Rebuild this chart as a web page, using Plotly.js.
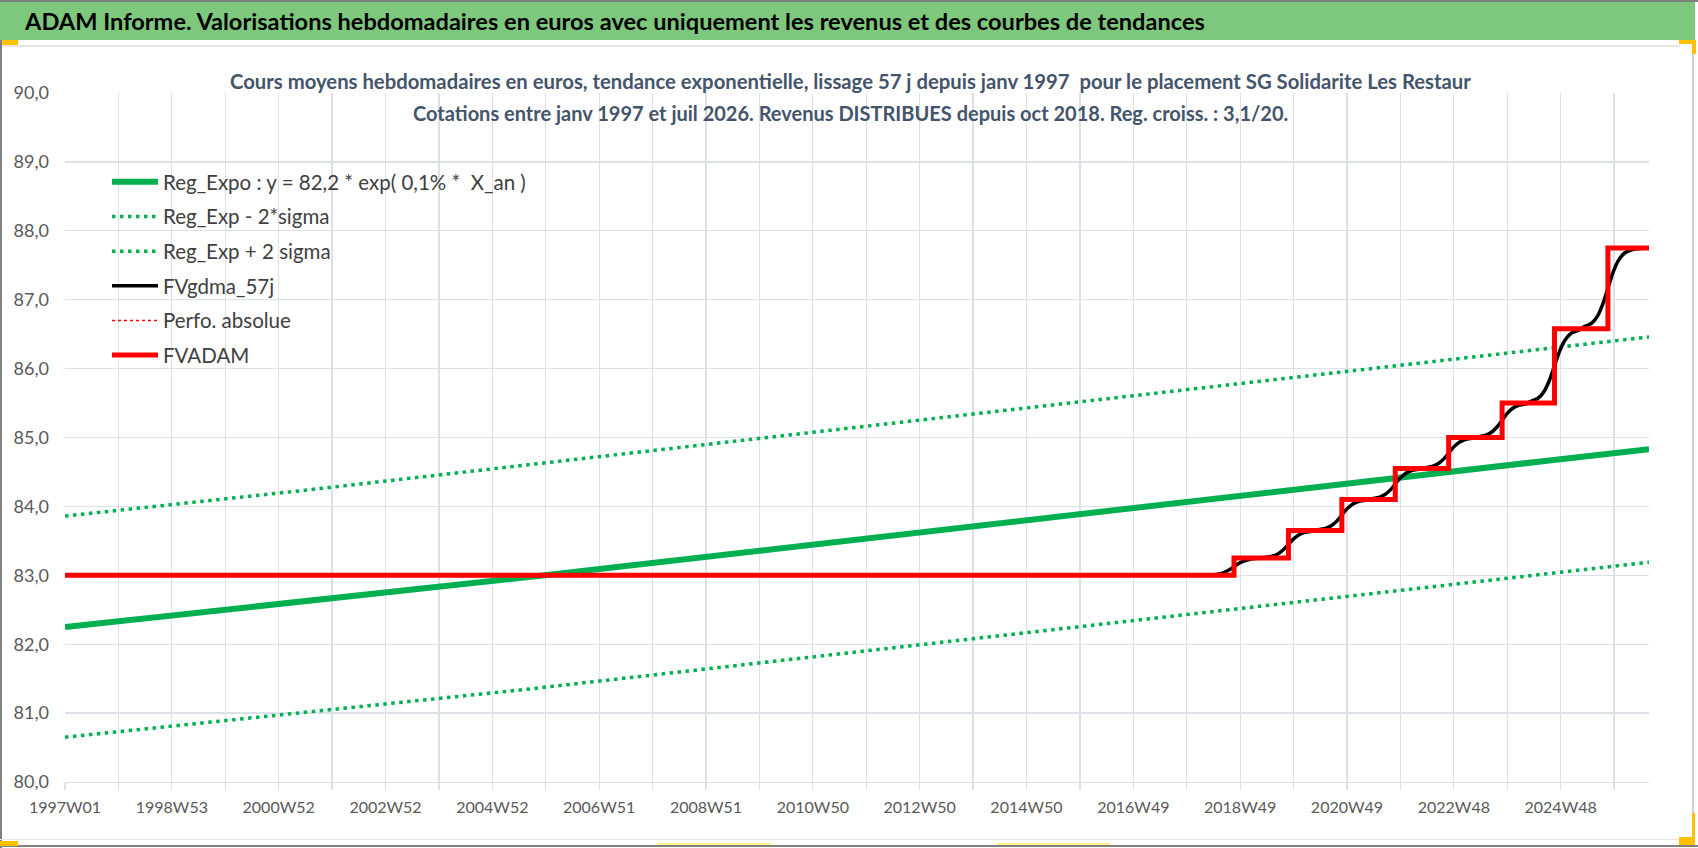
<!DOCTYPE html>
<html>
<head>
<meta charset="utf-8">
<script src="https://cdn.plot.ly/plotly-3.0.1.min.js"></script>
<style>
  html, body { margin: 0; padding: 0; background: #ffffff; }
  #chart { width: 1698px; height: 848px; }
</style>
</head>
<body>
<div id="chart"></div>
<script>
// ---------- DATA ----------
// x = week index since 1997W01
const tickLabels = ['1997W01', '', '1998W53', '', '2000W52', '', '2002W52', '', '2004W52', '', '2006W51', '', '2008W51', '', '2010W50', '', '2012W50', '', '2014W50', '', '2016W49', '', '2018W49', '', '2020W49', '', '2022W48', '', '2024W48', ''];

const trendWeeks = [0, 467, 1447, 1542];
const regExpo = [82.25, 83.00, 84.67, 84.83];

const lowerWeeks = [0, 446, 1542];
const regExpMinus = [80.65, 81.34, 83.19];

const upperWeeks = [0, 231, 1107, 1542];
const regExpPlus = [83.86, 84.23, 85.72, 86.46];

const fvWeeks = [0, 1138, 1191, 1243, 1295, 1347, 1399, 1450, 1502, 1542];
const fvAdam = [83.00, 83.25, 83.65, 84.10, 84.55, 85.00, 85.50, 86.58, 87.75, 87.75];

const gdmaWeeks = [0, 1090,
  1114, 1122, 1128, 1133, 1138, 1143, 1148, 1154, 1162,
  1167, 1175, 1181, 1186, 1191, 1196, 1201, 1207, 1215,
  1219, 1227, 1233, 1238, 1243, 1248, 1253, 1259, 1267,
  1271, 1279, 1285, 1290, 1295, 1300, 1305, 1311, 1319,
  1323, 1331, 1337, 1342, 1347, 1352, 1357, 1363, 1371,
  1375, 1383, 1389, 1394, 1399, 1404, 1409, 1415, 1423,
  1426, 1434, 1440, 1445, 1450, 1455, 1460, 1466, 1474,
  1478, 1486, 1492, 1497, 1502, 1507, 1512, 1518, 1526,
  1542];
const fvGdma57 = [83.00, 83.00,
  83.005, 83.016, 83.040, 83.076, 83.125, 83.174, 83.210, 83.234, 83.246,
  83.257, 83.276, 83.314, 83.371, 83.450, 83.529, 83.586, 83.624, 83.643,
  83.658, 83.679, 83.722, 83.786, 83.875, 83.964, 84.028, 84.071, 84.092,
  84.108, 84.129, 84.172, 84.236, 84.325, 84.414, 84.478, 84.521, 84.542,
  84.558, 84.579, 84.622, 84.686, 84.775, 84.864, 84.928, 84.971, 84.992,
  85.009, 85.033, 85.080, 85.152, 85.250, 85.349, 85.421, 85.468, 85.491,
  85.519, 85.570, 85.672, 85.827, 86.040, 86.253, 86.408, 86.510, 86.561,
  86.601, 86.656, 86.766, 86.935, 87.165, 87.395, 87.564, 87.674, 87.729,
  87.750];

const seriesNames = ['Reg_Expo : y = 82,2 * exp( 0,1% *  X_an )', 'Reg_Exp - 2*sigma', 'Reg_Exp + 2 sigma', 'FVgdma_57j', 'Perfo. absolue', 'FVADAM'];
const mainTitle = 'ADAM Informe. Valorisations hebdomadaires en euros avec uniquement les revenus et des courbes de tendances';
const subTitle1 = 'Cours moyens hebdomadaires en euros, tendance exponentielle, lissage 57 j depuis janv 1997  pour le placement SG Solidarite Les Restaur';
const subTitle2 = 'Cotations entre janv 1997 et juil 2026. Revenus DISTRIBUES depuis oct 2018. Reg. croiss. : 3,1/20.';

// ---------- LAYOUT HELPERS ----------
const W = 1698, H = 848;
const ML = 65, MR = 49, MT = 93, MB = 66;
const PW = W - ML - MR, PH = H - MT - MB;
const X = px => (px - ML) / PW;
const Y = py => (H - MB - py) / PH;
const rect = (x0, y0, x1, y1, color, layer) => ({
  type: 'rect', xref: 'paper', yref: 'paper',
  x0: X(x0), x1: X(x1), y0: Y(y1), y1: Y(y0),
  fillcolor: color, line: {width: 0}, layer: layer || 'above'
});

const GREEN = '#00B050';
const FONT = 'Lato, "Open Sans", sans-serif';
const GRID = '#DCE0E7';

const traces = [
  {x: trendWeeks, y: regExpo, name: seriesNames[0], mode: 'lines', line: {color: GREEN, width: 6}, legendgroup: 'a'},
  {x: lowerWeeks, y: regExpMinus, name: seriesNames[1], mode: 'lines', line: {color: GREEN, width: 3.5, dash: '3.5px,4.5px'}, legendgroup: 'b'},
  {x: upperWeeks, y: regExpPlus, name: seriesNames[2], mode: 'lines', line: {color: GREEN, width: 3.5, dash: '3.5px,4.5px'}, legendgroup: 'c'},
  {x: gdmaWeeks, y: fvGdma57, name: seriesNames[3], mode: 'lines', line: {color: '#000000', width: 3.5, shape: 'spline', smoothing: 0.6}, legendgroup: 'd'},
  {x: fvWeeks, y: fvAdam, name: seriesNames[4], mode: 'lines', line: {color: '#FF0000', width: 1.5, dash: 'dot', shape: 'hv'}, legendgroup: 'e'},
  {x: fvWeeks, y: fvAdam, name: seriesNames[5], mode: 'lines', line: {color: '#FF0000', width: 5, shape: 'hv'}, legendgroup: 'f'}
];

const tickWeeks = tickLabels.map((_, i) => i * 52);

const layout = {
  width: W, height: H,
  margin: {l: ML, r: MR, t: MT, b: MB, pad: 0},
  paper_bgcolor: '#ffffff', plot_bgcolor: '#ffffff',
  font: {family: FONT, color: '#595959'},
  title: {
    text: '<b>' + mainTitle + '</b>',
    font: {family: FONT, size: 23.6, color: '#000000'},
    xref: 'container', yref: 'container',
    x: 25 / W, xanchor: 'left', y: 1 - 22 / H, yanchor: 'middle'
  },
  showlegend: true,
  legend: {
    x: X(107), y: Y(162), xanchor: 'left', yanchor: 'top',
    bgcolor: 'rgba(0,0,0,0)', borderwidth: 0,
    font: {family: FONT, size: 20.5, color: '#404040'},
    tracegroupgap: 5, itemwidth: 46, traceorder: 'grouped'
  },
  xaxis: {
    type: 'linear', range: [0, 1542], fixedrange: true,
    tickmode: 'array', tickvals: tickWeeks, ticktext: tickLabels,
    showgrid: true, gridcolor: GRID, gridwidth: 1.3,
    ticks: 'outside', ticklen: 7, tickcolor: GRID, tickwidth: 1.3,
    showline: true, linecolor: GRID, linewidth: 1.3,
    zeroline: false, ticklabelstandoff: 3,
    tickfont: {family: FONT, size: 16, color: '#595959'},
    tickangle: 0
  },
  yaxis: {
    range: [80, 90], dtick: 1, tick0: 80, fixedrange: true,
    tickformat: '.1f',
    showgrid: true, gridcolor: GRID, gridwidth: 1.3,
    zeroline: false, showline: false, ticks: '',
    ticklabelstandoff: 15,
    tickfont: {family: FONT, size: 18, color: '#595959'}
  },
  separators: ',.',
  annotations: [
    {xref: 'paper', yref: 'paper', x: X(850), y: Y(81), xanchor: 'center', yanchor: 'middle', showarrow: false,
     text: '<b>' + subTitle1 + '</b>', font: {family: FONT, size: 20.3, color: '#44546A'}},
    {xref: 'paper', yref: 'paper', x: X(850), y: Y(113), xanchor: 'center', yanchor: 'middle', showarrow: false,
     text: '<b>' + subTitle2 + '</b>', font: {family: FONT, size: 20, color: '#44546A'}}
  ],
  shapes: [
    rect(220, 55, 1476, 128, '#ffffff', 'between'),
    rect(0, 0, 1698, 2, '#808080'),
    rect(0, 2, 1695, 40, '#7EC87E'),
    rect(0, 45, 1680, 47, '#E6E6E6'),
    rect(0, 40, 18, 45, '#FFC000'),
    rect(1679, 40, 1696, 44, '#FFC000'),
    rect(1692, 40, 1696, 54, '#FFC000'),
    rect(0, 40, 2, 848, '#808080'),
    rect(1692, 54, 1694, 813, '#D0D0D0'),
    rect(0, 839, 1680, 840, '#E6E6E6'),
    rect(0, 845, 1698, 847, '#808080'),
    rect(0, 841, 18, 846, '#FFC000'),
    rect(1679, 837, 1695, 845, '#FFC000'),
    rect(1692, 813, 1695, 845, '#FFC000'),
    rect(657, 843, 771, 845, '#FFF38A'),
    rect(997, 843, 1110, 845, '#FFF38A')
  ]
};

Plotly.newPlot('chart', traces, layout, {displayModeBar: false, staticPlot: true});
</script>
</body>
</html>
